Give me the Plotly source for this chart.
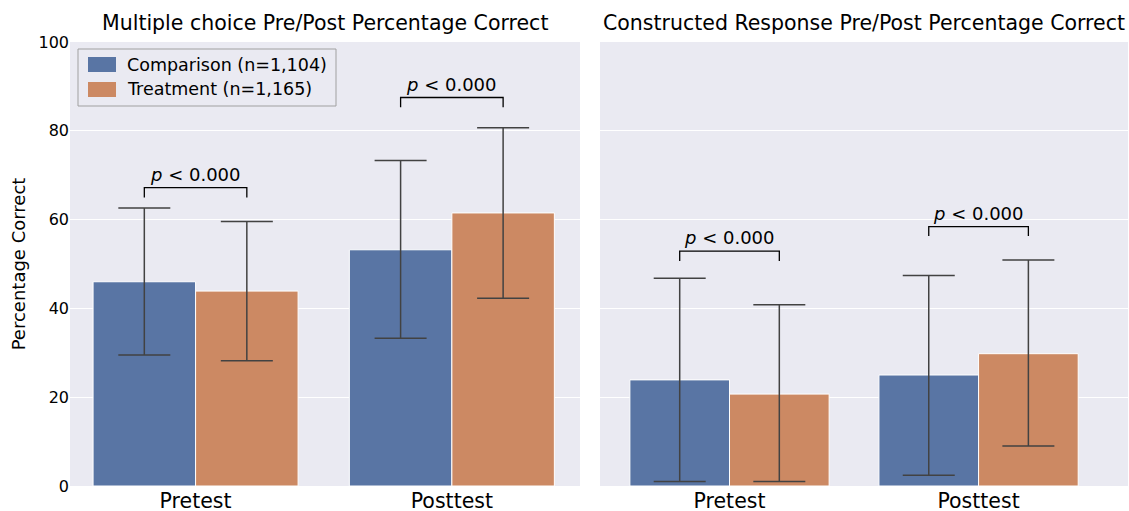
import plotly.graph_objects as go

categories = ["Pretest", "Posttest"]
series_names = ["Comparison (n=1,104)", "Treatment (n=1,165)"]

# Multiple choice panel
mc_comp = [46.0, 53.2]
mc_comp_lo = [29.5, 33.3]
mc_comp_hi = [62.6, 73.3]
mc_treat = [43.9, 61.5]
mc_treat_lo = [28.2, 42.3]
mc_treat_hi = [59.6, 80.7]
mc_bracket_top = [67.2, 87.5]
mc_bracket_leg = [65.0, 85.3]

# Constructed response panel
cr_comp = [23.9, 25.0]
cr_comp_lo = [1.0, 2.4]
cr_comp_hi = [46.8, 47.4]
cr_treat = [20.7, 29.8]
cr_treat_lo = [1.0, 9.0]
cr_treat_hi = [40.8, 50.9]
cr_bracket_top = [52.9, 58.4]
cr_bracket_leg = [50.7, 56.3]

p_label = "<i>p</i> < 0.000"
titles = ["Multiple choice Pre/Post Percentage Correct",
          "Constructed Response Pre/Post Percentage Correct"]
y_ticks = [0, 20, 40, 60, 80, 100]

blue = "#5975a4"
orange = "#cc8963"
colors = [blue, orange]
err_col = "#424242"
bg = "#eaeaf2"
FONT = "DejaVu Sans"

W, H = 1129, 511
ML, MT, MR, MB = 70, 42, 1, 25
PW, PH = W - ML - MR, H - MT - MB


def px(sx):  # pixel x -> paper x
    return (sx - ML) / PW


def py(sy):  # pixel y -> paper y
    return 1 - (sy - MT) / PH


fig = go.Figure()

panels = [
    ("x", "y", mc_comp, mc_comp_lo, mc_comp_hi, mc_treat, mc_treat_lo, mc_treat_hi,
     mc_bracket_top, mc_bracket_leg),
    ("x2", "y2", cr_comp, cr_comp_lo, cr_comp_hi, cr_treat, cr_treat_lo, cr_treat_hi,
     cr_bracket_top, cr_bracket_leg),
]

for xa, ya, c, clo, chi, t, tlo, thi, btop, bleg in panels:
    for name, vals, lo, hi, col in [(series_names[0], c, clo, chi, blue),
                                    (series_names[1], t, tlo, thi, orange)]:
        fig.add_trace(go.Bar(
            x=[0, 1], y=vals, name=name, xaxis=xa, yaxis=ya,
            marker=dict(color=col, line=dict(color="white", width=1)),
            showlegend=False, legendgroup=name,
            error_y=dict(type="data", symmetric=False,
                         array=[h - v for h, v in zip(hi, vals)],
                         arrayminus=[v - l for v, l in zip(vals, lo)],
                         color=err_col, thickness=1.5, width=26),
            hoverinfo="skip",
        ))
    for i in range(len(categories)):
        fig.add_trace(go.Scatter(
            x=[i - 0.2, i - 0.2, i + 0.2, i + 0.2],
            y=[bleg[i], btop[i], btop[i], bleg[i]],
            mode="lines", line=dict(color="black", width=1.3),
            xaxis=xa, yaxis=ya, showlegend=False, hoverinfo="skip",
        ))
        fig.add_annotation(x=i, y=btop[i], xref=xa, yref=ya, text=p_label,
                           showarrow=False, yanchor="bottom", xanchor="center", yshift=1,
                           font=dict(family=FONT, size=18, color="black"))

left_dom = [0, 510 / PW]
right_dom = [530 / PW, 1.0]

axis_common = dict(showgrid=False, zeroline=False, showline=False, ticks="",
                   tickmode="array", tickvals=[0, 1], ticktext=categories,
                   automargin=False,
                   tickfont=dict(family=FONT, size=20.5, color="black"))
yaxis_common = dict(range=[0, 100], tickvals=y_ticks, showgrid=True, gridcolor="white",
                    gridwidth=1, zeroline=False, showline=False, ticks="", automargin=False)

fig.update_layout(
    width=W, height=H,
    margin=dict(l=ML, r=MR, t=MT, b=MB, pad=0),
    paper_bgcolor="white", plot_bgcolor=bg,
    barmode="group", bargap=0.2, bargroupgap=0,
    xaxis=dict(domain=left_dom, range=[-0.49, 1.5], **axis_common),
    xaxis2=dict(domain=right_dom, range=[-0.52, 1.6], anchor="y2", **axis_common),
    yaxis=dict(title=dict(text="Percentage Correct", font=dict(family=FONT, size=18, color="black"),
                          standoff=8),
               tickfont=dict(family=FONT, size=16, color="black"), **yaxis_common),
    yaxis2=dict(anchor="x2", showticklabels=False, **yaxis_common),
    showlegend=False,
    font=dict(family=FONT, color="black"),
)

for dom, title in zip([left_dom, right_dom], titles):
    fig.add_annotation(x=(dom[0] + dom[1]) / 2, y=1, xref="paper", yref="paper",
                       text=title, showarrow=False, yanchor="bottom", xanchor="center",
                       yshift=5, font=dict(family=FONT, size=20.5, color="black"))

# legend box (drawn like matplotlib's legend)
fig.add_shape(type="rect", xref="paper", yref="paper",
              x0=px(78), x1=px(336), y0=py(106), y1=py(49),
              fillcolor=bg, line=dict(color="#a0a0a0", width=1), layer="above")
for k, (name, col) in enumerate(zip(series_names, colors)):
    top = 57 + 25 * k
    fig.add_shape(type="rect", xref="paper", yref="paper",
                  x0=px(88), x1=px(116), y0=py(top + 15), y1=py(top),
                  fillcolor=col, line=dict(width=0), layer="above")
    fig.add_annotation(x=px(125), y=py(top + 7.5), xref="paper", yref="paper",
                       text=name, showarrow=False, xanchor="left", yanchor="middle",
                       font=dict(family=FONT, size=17.5, color="black"))

fig.write_html(
    "out.html",
    config={"displayModeBar": False, "staticPlot": True},
    post_script="document.body.style.margin='0';document.body.style.overflow='hidden';",
)
